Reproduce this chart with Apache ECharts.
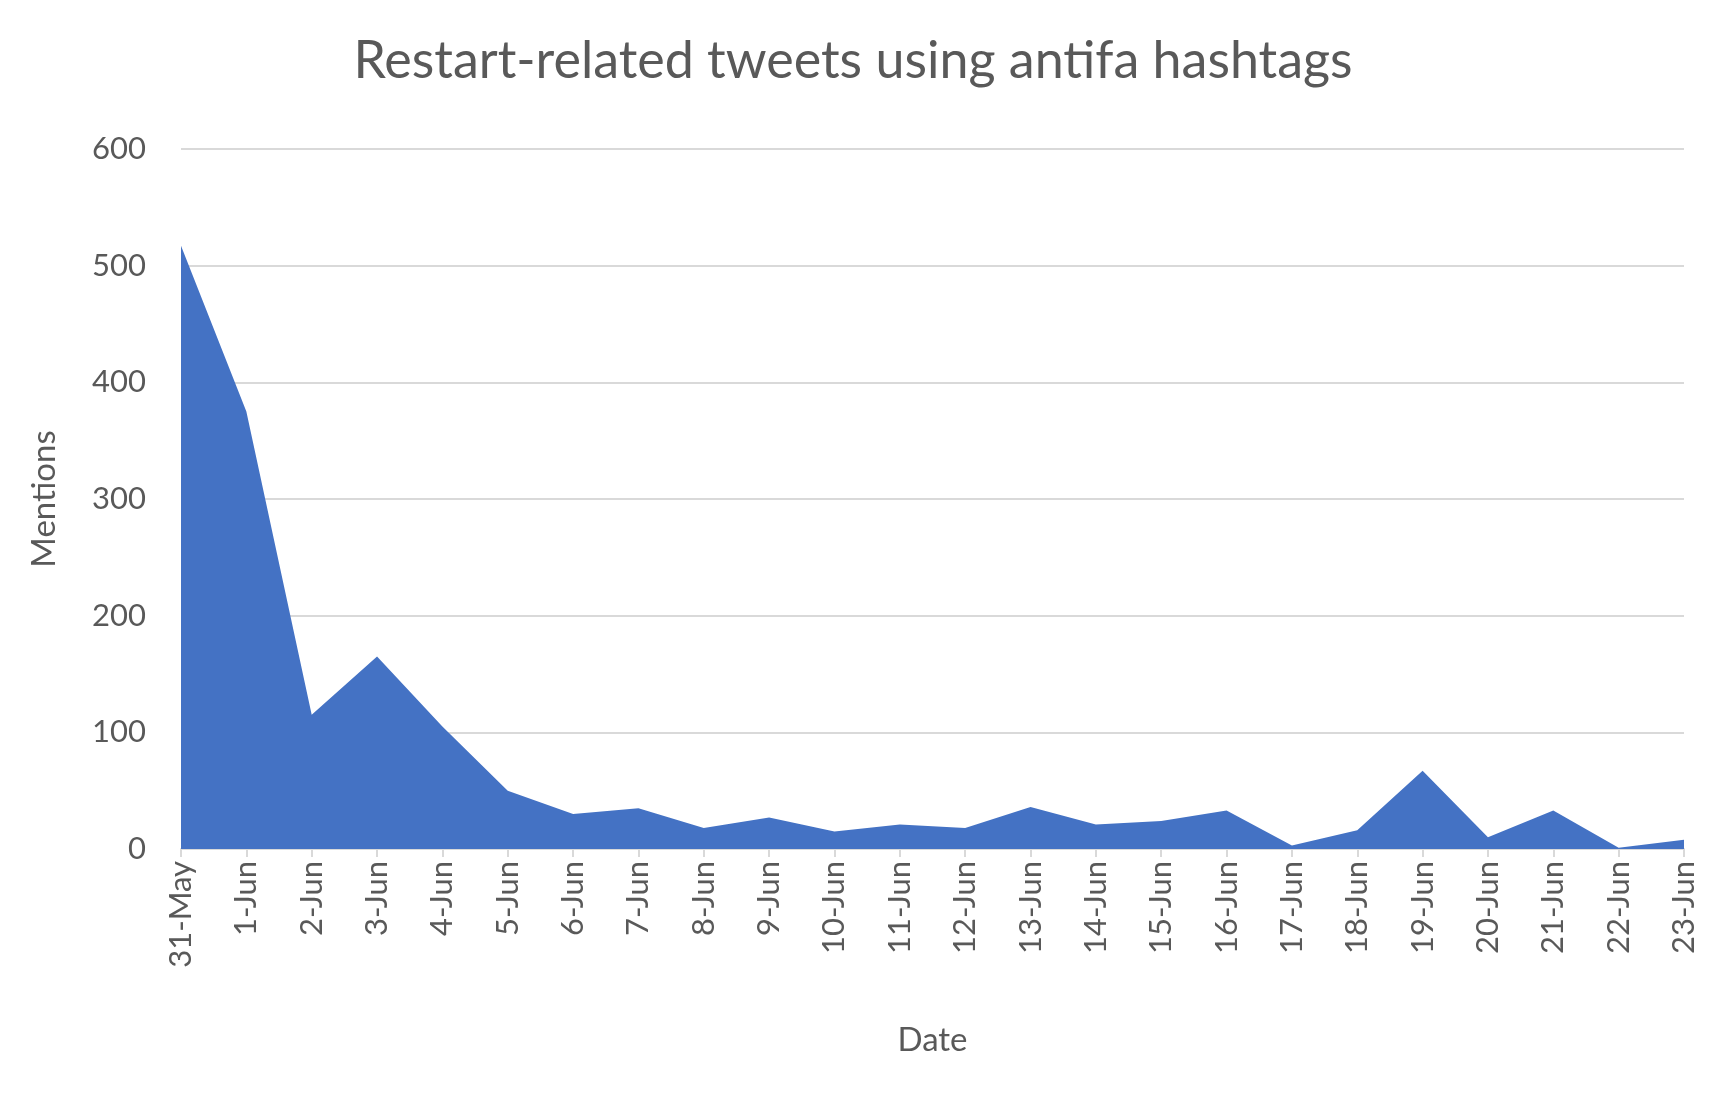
<!DOCTYPE html>
<html><head><meta charset="utf-8">
<script src="https://cdn.jsdelivr.net/npm/echarts@6/dist/echarts.min.js"></script>
<style>html,body{margin:0;padding:0;background:#fff}#c{width:1728px;height:1102px}</style>
</head><body><div id="c"></div>
<script>
const categories = ["31-May","1-Jun","2-Jun","3-Jun","4-Jun","5-Jun","6-Jun","7-Jun","8-Jun","9-Jun","10-Jun","11-Jun","12-Jun","13-Jun","14-Jun","15-Jun","16-Jun","17-Jun","18-Jun","19-Jun","20-Jun","21-Jun","22-Jun","23-Jun"];
const mentions = [517,375,115,165,105,50,30,35,18,27,15,21,18,36,21,24,33,3,16,67,10,33,1,8];
const chart = echarts.init(document.getElementById('c'));
const txt = '#595959', font = 'Lato';
chart.setOption({
  animation:false,
  title:{text:'Restart-related tweets using antifa hashtags',left:848,top:30,textAlign:'center',
    textStyle:{fontFamily:font,fontSize:52,fontWeight:'normal',color:txt}},
  grid:{left:181,right:44,top:149,bottom:253},
  xAxis:{type:'category',data:categories,boundaryGap:false,name:'Date',nameLocation:'middle',nameGap:175,
    nameTextStyle:{fontFamily:font,fontSize:33,color:txt},
    axisLine:{lineStyle:{color:'#d9d9d9',width:2}},axisTick:{show:true,length:8,lineStyle:{color:'#d9d9d9',width:2}},
    axisLabel:{rotate:90,interval:0,fontFamily:font,fontSize:31,color:txt,margin:12}},
  yAxis:{type:'value',min:0,max:600,interval:100,name:'Mentions',nameLocation:'middle',nameGap:120,
    nameTextStyle:{fontFamily:font,fontSize:33,color:txt},
    axisLabel:{fontFamily:font,fontSize:31,color:txt,margin:35},
    splitLine:{lineStyle:{color:'#d9d9d9',width:2}}},
  series:[{type:'line',data:mentions,symbol:'none',lineStyle:{width:0},
    areaStyle:{color:'#4472c4',opacity:1}}]
});
</script></body></html>
